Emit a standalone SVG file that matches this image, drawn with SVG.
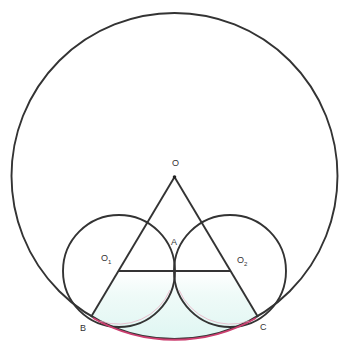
<svg xmlns="http://www.w3.org/2000/svg" width="347" height="345" viewBox="0 0 347 345">
  <style>
    .ln { fill: none; stroke: #333333; stroke-width: 1.9; }
    .lbl { font-family: "Liberation Sans", Arial, sans-serif; font-size: 9px; fill: #333; }
    .sub { font-family: "Liberation Sans", Arial, sans-serif; font-size: 6px; fill: #333; }
  </style>
  <defs>
    <linearGradient id="cy" x1="0" y1="271" x2="0" y2="340" gradientUnits="userSpaceOnUse">
      <stop offset="0" stop-color="#e4f7f3" stop-opacity="0"/>
      <stop offset="0.35" stop-color="#e4f7f3" stop-opacity="0.6"/>
      <stop offset="1" stop-color="#def6f2" stop-opacity="1"/>
    </linearGradient>
  </defs>
  <rect width="347" height="345" fill="#ffffff"/>
  <g id="shade">
    <path d="M119,271 L230,271 L258,317 A163,163 0 0 1 91,317 Z" fill="url(#cy)" stroke="none"/>
  </g>
  <g id="bigCircle">
    <circle class="ln" cx="174.5" cy="176" r="163"/>
  </g>
  <g id="circleO1">
    <circle class="ln" cx="119" cy="271" r="56"/>
  </g>
  <g id="circleO2">
    <circle class="ln" cx="230" cy="271" r="56"/>
  </g>
  <g id="connectors">
    <line class="ln" x1="174.5" y1="177" x2="91" y2="317"/>
    <line class="ln" x1="174.5" y1="177" x2="258" y2="317"/>
    <line class="ln" x1="119" y1="271" x2="230" y2="271"/>
    <path d="M93,318 A163,163 0 0 0 256,318" fill="none" stroke="#cc3f70" stroke-width="2"/>
    <path d="M100,321 A56,56 0 0 0 170,290" fill="none" stroke="#e8a7bd" stroke-width="1" opacity="0.7"/>
    <path d="M179,290 A56,56 0 0 0 249,321" fill="none" stroke="#e8a7bd" stroke-width="1" opacity="0.7"/>
    <circle cx="174.5" cy="177" r="1.8" fill="#222"/>
  </g>
  <g id="labels">
    <text class="lbl" x="172" y="166">O</text>
    <text class="lbl" x="171" y="245">A</text>
    <text class="lbl" x="101" y="261">O</text><text class="sub" x="108" y="264">1</text>
    <text class="lbl" x="237" y="263">O</text><text class="sub" x="244" y="266">2</text>
    <text class="lbl" x="80" y="331">B</text>
    <text class="lbl" x="260" y="330">C</text>
  </g>
</svg>
